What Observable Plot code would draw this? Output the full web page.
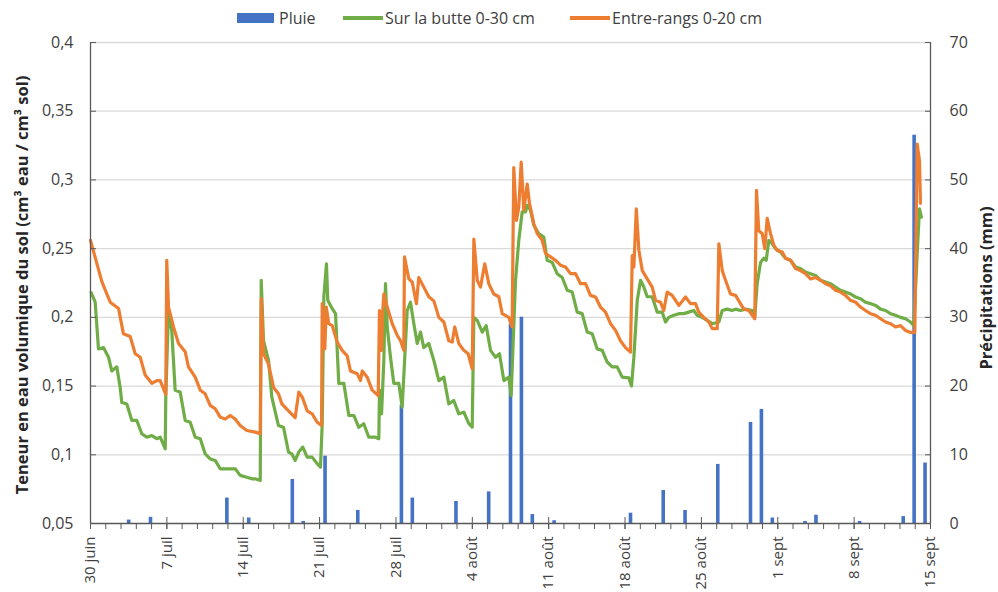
<!DOCTYPE html>
<html><head><meta charset="utf-8">
<script src="https://cdn.jsdelivr.net/npm/d3@7"></script>
<script src="https://cdn.jsdelivr.net/npm/@observablehq/plot@0.6"></script>
<style>
body{margin:0;background:#fff;font-family:"Open Sans",sans-serif;}
#legend{position:relative;width:998px;height:36px;font-size:16px;color:#404040;}
#legend .sw{position:absolute;}
#legend .lb{position:absolute;top:0;line-height:36px;white-space:nowrap;}
</style></head><body>
<div id="legend"></div>
<div id="chart"></div>
<script>
// ---- data ----
const seriesNames = ["Pluie", "Sur la butte 0-30 cm", "Entre-rangs 0-20 cm"];
const seriesColors = ["#4472C4", "#70AD47", "#ED7D31"];
const leftTitle = "Teneur en eau volumique du sol (cm³ eau / cm³ sol)";
const rightTitle = "Précipitations (mm)";

// x tick labels (days since 30 juin)
const majorDays = [0, 7, 14, 21, 28, 35, 42, 49, 56, 63, 70, 77];
const majorLabels = ["30 juin", "7 juil", "14 juil", "21 juil", "28 juil", "4 août", "11 août", "18 août", "25 août", "1 sept", "8 sept", "15 sept"];
const yTicks = [0.05, 0.1, 0.15, 0.2, 0.25, 0.3, 0.35, 0.4];
const yLabels = ["0,05", "0,1", "0,15", "0,2", "0,25", "0,3", "0,35", "0,4"];
const mmTicks = [0, 10, 20, 30, 40, 50, 60, 70];

// daily rain (day index since 30 juin, mm)
const rainDays = [3, 5, 12, 14, 18, 19, 21, 24, 28, 29, 33, 36, 38, 39, 40, 42, 49, 52, 54, 57, 60, 61, 62, 65, 66, 70, 74, 75, 76];
const rainMm = [0.5, 0.9, 3.7, 0.8, 6.4, 0.3, 9.8, 1.9, 17.2, 3.7, 3.2, 4.6, 29, 30, 1.3, 0.4, 1.5, 4.8, 1.9, 8.6, 14.7, 16.6, 0.8, 0.3, 1.2, 0.3, 1.0, 56.5, 8.8];

// soil moisture [days since 30 juin, value]
const butte = [[0.06,.218],[0.43,.211],[0.73,.177],[1.19,.178],[1.65,.171],[1.95,.161],[2.41,.164],[2.72,.149],[2.87,.138],[3.33,.137],[3.79,.125],[4.24,.125],[4.70,.1153],[5.16,.1128],[5.62,.114],[6.08,.1117],[6.39,.1128],[6.85,.1044],[6.90,.142],[7.15,.205],[7.45,.1905],[7.76,.147],[8.22,.1456],[8.68,.125],[9.14,.1237],[9.60,.1128],[10.06,.1117],[10.51,.1007],[10.97,.097],[11.43,.0959],[11.89,.0898],[12.35,.0898],[12.81,.0898],[13.26,.0898],[13.72,.085],[14.33,.0837],[14.79,.0825],[15.10,.0825],[15.56,.0813],[15.65,.227],[15.86,.183],[16.32,.1687],[16.62,.142],[17.23,.1213],[17.69,.1201],[18.15,.102],[18.45,.1007],[18.76,.0959],[19.09,.102],[19.46,.1056],[19.86,.0983],[20.32,.0983],[20.78,.0935],[21.08,.091],[21.24,.1226],[21.39,.215],[21.63,.239],[21.75,.2124],[22.16,.2063],[22.46,.2027],[22.76,.152],[23.22,.152],[23.68,.1286],[24.14,.1286],[24.59,.12],[25.05,.1226],[25.51,.1128],[26.13,.1128],[26.43,.1117],[26.49,.147],[26.68,.1298],[26.89,.1687],[27.04,.2245],[27.20,.193],[27.50,.171],[27.80,.152],[28.26,.152],[28.57,.1347],[28.81,.171],[29.03,.205],[29.33,.211],[29.64,.1954],[29.95,.181],[30.25,.1893],[30.55,.178],[31.01,.181],[31.47,.1687],[31.93,.154],[32.39,.1565],[32.84,.137],[33.30,.1395],[33.76,.1298],[34.22,.131],[34.68,.1226],[34.99,.1201],[35.14,.200],[35.45,.1978],[35.91,.1893],[36.27,.194],[36.67,.176],[37.13,.171],[37.49,.1735],[37.89,.154],[38.34,.1565],[38.56,.143],[38.96,.227],[39.26,.256],[39.57,.2767],[39.88,.2767],[40.03,.2815],[40.33,.278],[40.64,.267],[41.09,.261],[41.55,.2585],[41.86,.2415],[42.32,.240],[42.78,.2318],[43.24,.229],[43.70,.2197],[44.16,.2184],[44.61,.2038],[45.07,.2027],[45.53,.1893],[45.99,.188],[46.45,.177],[46.91,.176],[47.36,.1675],[47.82,.164],[48.28,.164],[48.74,.1565],[49.35,.156],[49.59,.150],[49.81,.171],[50.12,.2124],[50.42,.227],[50.73,.222],[51.03,.215],[51.49,.215],[51.95,.2038],[52.41,.2038],[52.71,.1966],[53.01,.200],[53.47,.2015],[53.93,.2027],[54.39,.2027],[54.84,.2038],[55.30,.205],[55.61,.2015],[56.07,.200],[56.53,.1978],[56.99,.1954],[57.60,.1966],[57.91,.205],[58.36,.206],[58.82,.205],[59.13,.206],[59.58,.205],[60.04,.206],[60.66,.205],[60.89,.200],[61.11,.2245],[61.42,.240],[61.72,.243],[61.94,.2415],[62.18,.256],[62.49,.2536],[62.79,.250],[63.25,.2475],[63.71,.243],[64.17,.2415],[64.63,.2366],[65.08,.2355],[65.54,.233],[66.00,.2318],[66.46,.2305],[66.92,.227],[67.38,.2257],[67.83,.2245],[68.29,.222],[68.75,.2197],[69.21,.2184],[69.67,.217],[70.13,.2148],[70.58,.2136],[71.04,.211],[71.50,.21],[71.96,.2087],[72.42,.206],[72.88,.205],[73.33,.2027],[73.79,.2015],[74.25,.200],[74.71,.199],[75.17,.1966],[75.47,.194],[75.78,.2463],[75.99,.279],[76.17,.273]];

const entreRangs = [[0,.256],[1.04,.226],[1.81,.211],[2.57,.2065],[3.02,.188],[3.64,.186],[4.10,.1735],[4.56,.171],[5.01,.158],[5.62,.152],[6.08,.154],[6.39,.154],[6.90,.144],[6.99,.2415],[7.15,.2075],[7.61,.193],[8.07,.181],[8.68,.175],[8.98,.164],[9.60,.1565],[10.06,.147],[10.51,.1444],[10.97,.136],[11.43,.1335],[11.89,.1274],[12.35,.126],[12.81,.1286],[13.26,.126],[13.72,.1213],[14.33,.1177],[15.10,.1165],[15.56,.1153],[15.65,.2136],[15.86,.1735],[16.32,.166],[16.78,.149],[17.23,.1444],[17.54,.137],[18.15,.132],[18.76,.127],[19.09,.1456],[19.41,.142],[19.86,.132],[20.32,.1298],[20.78,.1237],[21.18,.1213],[21.24,.210],[21.48,.177],[21.61,.2075],[21.84,.1954],[22.16,.194],[22.61,.182],[23.07,.176],[23.53,.172],[23.83,.161],[24.45,.159],[24.75,.154],[24.91,.161],[25.36,.1565],[25.82,.147],[26.37,.143],[26.49,.205],[26.68,.176],[26.79,.205],[26.89,.217],[27.20,.2075],[27.66,.1954],[28.11,.187],[28.42,.183],[28.72,.176],[28.78,.244],[29.18,.228],[29.49,.2257],[29.88,.21],[30.09,.229],[30.55,.222],[31.01,.215],[31.47,.212],[31.93,.200],[32.39,.1966],[32.84,.183],[33.16,.182],[33.39,.193],[33.76,.181],[34.22,.176],[34.62,.1735],[34.99,.1626],[35.14,.257],[35.45,.227],[35.75,.222],[36.14,.239],[36.51,.2245],[36.97,.217],[37.43,.215],[37.74,.2027],[38.34,.200],[38.65,.193],[38.80,.309],[39.05,.2706],[39.26,.280],[39.48,.313],[39.72,.278],[40.03,.297],[40.24,.283],[40.64,.268],[40.95,.261],[41.41,.256],[41.71,.2465],[42.17,.244],[42.63,.2415],[43.08,.238],[43.54,.2366],[44.00,.2318],[44.46,.2318],[44.92,.2245],[45.38,.2245],[45.83,.216],[46.29,.2148],[46.75,.2075],[47.21,.2038],[47.67,.1954],[48.13,.1905],[48.58,.183],[49.04,.178],[49.50,.1747],[49.66,.245],[49.81,.2366],[50.03,.279],[50.27,.2487],[50.58,.234],[51.03,.228],[51.49,.222],[51.80,.2124],[52.25,.211],[52.55,.205],[52.86,.2184],[53.32,.216],[53.93,.2087],[54.54,.2148],[55.00,.21],[55.46,.21],[55.76,.2038],[56.22,.200],[56.68,.1966],[56.99,.1918],[57.45,.1918],[57.60,.2535],[57.91,.234],[58.21,.227],[58.67,.217],[59.13,.216],[59.58,.21],[59.89,.206],[60.35,.205],[60.80,.200],[60.89,.199],[61.05,.2925],[61.26,.263],[61.57,.261],[61.81,.25],[62.03,.272],[62.33,.261],[62.64,.2524],[62.95,.2487],[63.41,.2475],[63.71,.243],[64.17,.2415],[64.63,.2355],[65.08,.234],[65.54,.2318],[66.00,.228],[66.46,.229],[66.92,.227],[67.38,.2245],[67.83,.223],[68.29,.2197],[68.75,.2184],[69.21,.216],[69.67,.2124],[70.13,.211],[70.58,.2075],[71.04,.205],[71.50,.2027],[71.96,.2015],[72.42,.199],[72.88,.1966],[73.33,.1954],[73.79,.193],[74.25,.194],[74.71,.1905],[75.17,.189],[75.56,.189],[75.78,.326],[75.99,.314],[76.08,.283]];

// ---- build ----
const DAY = 864e5;
const start = Date.UTC(2021, 5, 30);
const dt = d => new Date(start + d * DAY);
const toY = mm => 0.05 + mm * 0.005;          // secondary axis mapping (0–70 mm → 0.05–0.4)
const rain = rainDays.map((d, i) => ({date: dt(d + 0.5), mm: rainMm[i]}));
const toRows = arr => arr.map(([d, v]) => ({date: dt(d), v}));
const majorDates = majorDays.map(dt);
const labelByTime = new Map(majorDates.map((d, i) => [+d, majorLabels[i]]));
const minorDates = d3.range(0, 56).map(i => dt(i * 1.4));
const xDomain = [dt(0), dt(77)];
const axisColor = "#595959";
const textColor = "#404040";

// legend
const legend = document.getElementById("legend");
legend.innerHTML = `
  <div class="sw" style="left:237px;top:13px;width:37px;height:10px;background:${seriesColors[0]}"></div>
  <div class="lb" style="left:279px">${seriesNames[0]}</div>
  <div class="sw" style="left:343px;top:16px;width:40px;height:4px;background:${seriesColors[1]}"></div>
  <div class="lb" style="left:385px">${seriesNames[1]}</div>
  <div class="sw" style="left:570px;top:16px;width:40px;height:4px;background:${seriesColors[2]}"></div>
  <div class="lb" style="left:612px">${seriesNames[2]}</div>`;

const chart = Plot.plot({
  width: 998,
  height: 556,
  marginLeft: 90,
  marginRight: 68,
  marginTop: 6,
  marginBottom: 69,
  style: {fontFamily: "'Open Sans', sans-serif", fontSize: "16px", color: textColor, background: "white", overflow: "visible"},
  x: {type: "utc", domain: xDomain},
  y: {domain: [0.05, 0.4]},
  marks: [
    Plot.gridY(yTicks.slice(1), {stroke: "#d9d9d9", strokeOpacity: 1, strokeWidth: 1.3}),
    Plot.ruleX(rain, {x: "date", y1: 0.05, y2: d => toY(d.mm), stroke: seriesColors[0], strokeWidth: 3.6}),
    Plot.line(toRows(butte), {x: "date", y: "v", stroke: seriesColors[1], strokeWidth: 3.2, strokeLinejoin: "round"}),
    Plot.line(toRows(entreRangs), {x: "date", y: "v", stroke: seriesColors[2], strokeWidth: 3.2, strokeLinejoin: "round"}),
    Plot.ruleY([0.05], {stroke: axisColor, strokeWidth: 1.3}),
    Plot.ruleX(xDomain, {stroke: axisColor, strokeWidth: 1.3}),
    Plot.axisY({ticks: yTicks, tickFormat: v => yLabels[yTicks.indexOf(v)], tickSize: -6, tickPadding: 23, stroke: axisColor, fill: textColor, label: null}),
    Plot.axisY({anchor: "right", ticks: mmTicks.map(toY), tickFormat: v => String(Math.round((v - 0.05) / 0.005)), tickSize: -6, tickPadding: 25, stroke: axisColor, fill: textColor, label: null}),
    Plot.axisX({ticks: majorDates, tickFormat: d => labelByTime.get(+d), tickRotate: -90, tickSize: 6, tickPadding: 7, stroke: axisColor, fill: textColor, fontSize: 15, label: null}),
    Plot.axisX({ticks: majorDates, tickSize: -6, stroke: axisColor, fill: "none", label: null}),
    Plot.axisX({ticks: minorDates, tickSize: 6, stroke: axisColor, fill: "none", label: null}),
    Plot.text([leftTitle], {frameAnchor: "left", textAnchor: "middle", rotate: -90, dx: -68, dy: 2, fontWeight: "bold", fill: "#262626", fontSize: 16.5}),
    Plot.text([rightTitle], {frameAnchor: "right", textAnchor: "middle", rotate: -90, dx: 56, dy: 5, fontWeight: "bold", fill: "#262626", fontSize: 16.5})
  ]
});
document.getElementById("chart").appendChild(chart);
</script>
</body></html>
